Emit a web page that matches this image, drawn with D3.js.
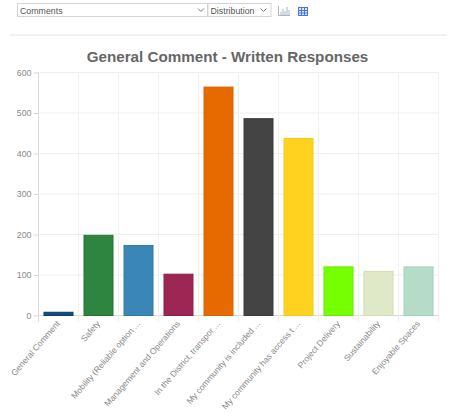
<!DOCTYPE html>
<html><head><meta charset="utf-8">
<script src="https://cdnjs.cloudflare.com/ajax/libs/d3/7.8.5/d3.min.js"></script>
<style>
html,body{margin:0;padding:0;background:#fff;overflow:hidden}
svg{display:block;font-family:"Liberation Sans",Arial,sans-serif}
</style></head><body>
<svg id="c" width="458" height="420"></svg>
<script>
const categories = ["General Comment","Safety","Mobility (Reliable option ...","Management and Operations","In the District, transpor ...","My community is included  ...","My community has access t ...","Project Delivery","Sustainability","Enjoyable Spaces"];
const values = [8,198,173,102,564,486,437,120,109,120];
const fills = ["#0f4c81","#2e8540","#3a87b7","#9e2654","#e66a00","#444444","#ffd21f","#76ff03","#dfe9c8","#b6dcc9"];
const strokes = ["#0b3d69","#277236","#3379a6","#8a2049","#d96400","#3a3a3a","#f5c916","#6ae802","#cfdcb4","#a5cfba"];
const yTicks = [0,100,200,300,400,500,600];
const chartTitle = "General Comment - Written Responses";
const selectLabels = ["Comments","Distribution"];

const svg = d3.select("#c");
const x = d3.scaleBand().domain(categories).range([38.5,438.5]);
const y = d3.scaleLinear().domain([0,600]).range([315.5,72.5]);

// toolbar
const sel = [[17,190],[207.5,63]];
sel.forEach((s,i)=>{
  svg.append("rect").attr("x",s[0]+.5).attr("y",3.5).attr("width",s[1]).attr("height",13).attr("fill","#fff").attr("stroke","#d4d4d4");
  svg.append("text").attr("x",s[0]+3).attr("y",13.5).attr("font-size",8.8).attr("fill","#555").text(selectLabels[i]);
  const cx = s[0]+s[1]-(i?7:6);
  svg.append("path").attr("d",`M${cx-3},8.5L${cx},11.5L${cx+3},8.5`).attr("fill","none").attr("stroke","#777");
});
// chart icon
svg.append("path").attr("d","M278.5,6V15.5H290M281,15V12M283,15V9M285,15V11M287,15V7M289,15V10").attr("fill","none").attr("stroke","#a9b4c2");
// table icon
const tb = svg.append("g").attr("fill","none").attr("stroke","#4a78d8");
tb.append("rect").attr("x",298.5).attr("y",7.5).attr("width",9).attr("height",8).attr("fill","#dbe6fb");
tb.append("path").attr("d","M298.5,10.5H307.5M298.5,13H307.5M301.5,7.5V15.5M304.5,7.5V15.5");
svg.append("line").attr("x1",10).attr("x2",447).attr("y1",35).attr("y2",35).attr("stroke","#e2e2e2");

svg.append("text").attr("x",227.5).attr("y",62).attr("text-anchor","middle").attr("font-size",15.2).attr("font-weight",700).attr("fill","#666").text(chartTitle);

// grid
const tickX = categories.map(c=>x(c)).concat([438.5]);
svg.append("g").selectAll("line").data(yTicks).join("line")
  .attr("x1",38.5).attr("x2",438.5).attr("y1",d=>y(d)).attr("y2",d=>y(d))
  .attr("stroke",d=>d===0?"#d9d9d9":"#efefef");
svg.append("g").selectAll("line").data(tickX).join("line")
  .attr("x1",d=>d).attr("x2",d=>d).attr("y1",72.5).attr("y2",322)
  .attr("stroke",(d,i)=>i===0?"#dedede":"#efefef");

// axes
const ya = svg.append("g").attr("transform","translate(38.5,0)")
  .call(d3.axisLeft(y).tickValues(yTicks).tickSize(5).tickPadding(2));
ya.select(".domain").remove();
ya.selectAll("line").attr("stroke","#d9d9d9");
ya.selectAll("text").attr("font-size",8.8).attr("fill","#888").attr("font-family","Liberation Sans");

const xa = svg.append("g").attr("transform","translate(0,315.5)")
  .call(d3.axisBottom(x).tickSize(0));
xa.select(".domain").remove();
xa.selectAll("text")
  .attr("font-size",8.5).attr("fill","#888").attr("font-family","Liberation Sans")
  .attr("text-anchor","end").attr("dy",0).attr("y",0)
  .attr("transform","translate(2,8.5) rotate(-49)");

// bars
svg.append("g").selectAll("rect").data(values).join("rect")
  .attr("x",(d,i)=>x(categories[i])+5.5).attr("width",x.bandwidth()-11)
  .attr("y",d=>y(d)).attr("height",d=>y(0)-y(d))
  .attr("fill",(d,i)=>fills[i]).attr("stroke",(d,i)=>strokes[i]);
</script>
</body></html>
